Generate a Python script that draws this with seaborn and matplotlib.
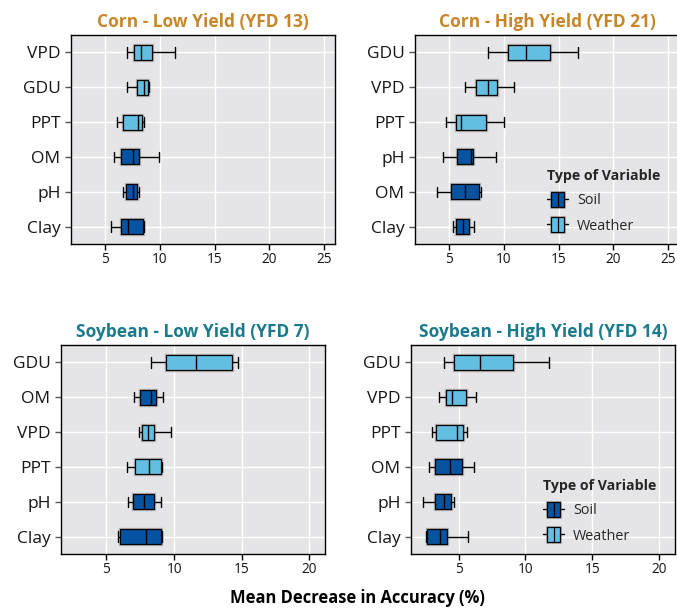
import numpy as np
import pandas as pd
import seaborn as sns
import matplotlib.pyplot as plt
from matplotlib.legend_handler import HandlerBase
from matplotlib.patches import Rectangle
from matplotlib.lines import Line2D
from matplotlib import patheffects

# ---- data: five-number summaries (lower whisker, Q1, median, Q3, upper whisker) ----
corn_low_vars = ["VPD", "GDU", "PPT", "OM", "pH", "Clay"]
corn_low_types = ["Weather", "Weather", "Weather", "Soil", "Soil", "Soil"]
corn_low_stats = [
    [6.95, 7.65, 8.29, 9.30, 11.37],
    [6.95, 7.90, 8.54, 8.90, 8.99],
    [6.04, 6.65, 8.02, 8.32, 8.54],
    [5.79, 6.43, 7.50, 8.11, 9.94],
    [6.65, 6.86, 7.56, 7.93, 8.11],
    [5.49, 6.40, 7.07, 8.41, 8.54],
]

corn_high_vars = ["GDU", "VPD", "PPT", "pH", "OM", "Clay"]
corn_high_types = ["Weather", "Weather", "Weather", "Soil", "Soil", "Soil"]
corn_high_stats = [
    [8.49, 10.38, 12.03, 14.24, 16.74],
    [6.47, 7.45, 8.49, 9.40, 10.87],
    [4.66, 5.61, 6.10, 8.36, 10.02],
    [4.45, 5.67, 6.96, 7.14, 9.25],
    [3.84, 5.12, 6.41, 7.75, 7.87],
    [5.31, 5.61, 6.22, 6.83, 7.26],
]

soy_low_vars = ["GDU", "OM", "VPD", "PPT", "pH", "Clay"]
soy_low_types = ["Weather", "Soil", "Weather", "Weather", "Soil", "Soil"]
soy_low_stats = [
    [8.26, 9.44, 11.64, 14.31, 14.75],
    [7.07, 7.49, 8.28, 8.68, 9.20],
    [7.42, 7.64, 8.06, 8.53, 9.77],
    [6.53, 7.10, 8.11, 9.07, 9.12],
    [6.58, 6.93, 7.79, 8.53, 9.05],
    [5.84, 5.99, 7.96, 9.05, 9.12],
]

soy_high_vars = ["GDU", "VPD", "PPT", "OM", "pH", "Clay"]
soy_high_types = ["Weather", "Weather", "Weather", "Soil", "Soil", "Soil"]
soy_high_stats = [
    [3.95, 4.63, 6.60, 9.06, 11.78],
    [3.55, 4.05, 4.48, 5.57, 6.32],
    [3.00, 3.35, 4.90, 5.35, 5.60],
    [2.81, 3.25, 4.38, 5.27, 6.15],
    [2.31, 3.25, 3.95, 4.45, 4.65],
    [2.56, 2.66, 3.63, 4.15, 5.70],
]

type_order = ["Soil", "Weather"]
type_colors = {"Soil": "#0553A1", "Weather": "#63BFE2"}
corn_color = "#C8862A"
soy_color = "#1B7B8C"
halo = (0.35, 0.35, 0.35, 0.35)

FONT = ["Open Sans", "DejaVu Sans"]

sns.set_theme(style="darkgrid", rc={
    "axes.facecolor": "#E5E5E7",
    "grid.color": "white",
    "grid.linewidth": 1.0,
    "axes.edgecolor": "black",
    "axes.linewidth": 1.0,
})
plt.rcParams["font.family"] = FONT


class BoxKeyHandler(HandlerBase):
    """Legend key drawn as a tiny horizontal boxplot."""

    def create_artists(self, legend, orig_handle, xdescent, ydescent,
                       width, height, fontsize, trans):
        fc = orig_handle.get_facecolor()
        cy = height / 2 - ydescent
        x0, x1 = -xdescent, -xdescent + width
        bw = width * 0.6
        bx = x0 + (width - bw) / 2
        bh = height * 1.55
        whisk = Line2D([x0, x1], [cy, cy], color="black", lw=1.0, transform=trans)
        box = Rectangle((bx, cy - bh / 2), bw, bh, facecolor=fc,
                        edgecolor="black", lw=0.9, transform=trans)
        box.set_path_effects([patheffects.withStroke(linewidth=2.2, foreground=halo)])
        med = Line2D([bx + bw / 2, bx + bw / 2], [cy - bh / 2, cy + bh / 2],
                     color="black", lw=0.9, transform=trans)
        return [whisk, box, med]


def long_frame(variables, types, stats):
    rows = []
    for v, t, s in zip(variables, types, stats):
        for val in s:
            rows.append({"variable": v, "type": t, "value": val})
    return pd.DataFrame(rows)


def draw_panel(ax, variables, types, stats, title, title_color, xlim, show_legend):
    df = long_frame(variables, types, stats)
    sns.boxplot(data=df, x="value", y="variable", hue="type",
                order=variables, hue_order=type_order, palette=type_colors,
                dodge=False, width=0.43, whis=(0, 100), saturation=1,
                linecolor="black", linewidth=0.9, legend=False, ax=ax)
    for p in ax.patches:
        p.set_path_effects([patheffects.withStroke(linewidth=2.4, foreground=halo)])
    # lengthen the whisker caps (short vertical segments at whisker ends)
    for ln in ax.lines:
        xd, yd = np.asarray(ln.get_xdata(), float), np.asarray(ln.get_ydata(), float)
        if len(xd) == 2 and xd[0] == xd[1] and abs(yd[1] - yd[0]) < 0.3:
            c = yd.mean()
            ln.set_ydata([c - 0.15, c + 0.15])
        ln.set_linewidth(1.0)
    ax.set_xlim(*xlim)
    ax.set_ylim(len(variables) - 0.5, -0.5)
    ax.set_xticks([t for t in [5, 10, 15, 20, 25] if t < xlim[1]])
    ax.set_xlabel("")
    ax.set_ylabel("")
    ax.grid(True, axis="both", color="white", lw=1.0)
    ax.set_axisbelow(True)
    for s in ax.spines.values():
        s.set_visible(True)
        s.set_color("black")
        s.set_linewidth(1.0)
    ax.tick_params(axis="y", left=True, length=4.5, width=1, color="#555555",
                   labelsize=12.5, pad=3, labelcolor="#151515")
    ax.tick_params(axis="x", bottom=True, length=4, width=1, color="black",
                   labelsize=9.8, pad=2, labelcolor="#151515")
    ax.set_title(title, color=title_color, fontsize=12.5, fontweight="bold", pad=6)
    if show_legend:
        handles = [Rectangle((0, 0), 1, 1, facecolor=type_colors[t]) for t in type_order]
        leg = ax.legend(handles, type_order, title="Type of Variable",
                        handler_map={Rectangle: BoxKeyHandler()},
                        loc="lower left", bbox_to_anchor=(0.45, -0.012),
                        frameon=False, fontsize=10.4, title_fontsize=10.2,
                        handlelength=1.5, handletextpad=0.6, labelspacing=0.7)
        leg.get_title().set_fontweight("bold")
        leg._legend_box.align = "left"


W, H = 677, 611
fig = plt.figure(figsize=(W / 100, H / 100), dpi=100)


def rect(left, right, top, bottom):
    return [left / W, 1 - bottom / H, (right - left) / W, (bottom - top) / H]


ax1 = fig.add_axes(rect(71, 335, 35, 244))
ax2 = fig.add_axes(rect(415, 679, 35, 244))
ax3 = fig.add_axes(rect(61, 325, 345, 554))
ax4 = fig.add_axes(rect(411, 675, 345, 554))

draw_panel(ax1, corn_low_vars, corn_low_types, corn_low_stats,
           "Corn - Low Yield (YFD 13)", corn_color, (1.86, 26.0), False)
draw_panel(ax2, corn_high_vars, corn_high_types, corn_high_stats,
           "Corn - High Yield (YFD 21)", corn_color, (1.86, 26.0), True)
draw_panel(ax3, soy_low_vars, soy_low_types, soy_low_stats,
           "Soybean - Low Yield (YFD 7)", soy_color, (1.64, 21.16), False)
draw_panel(ax4, soy_high_vars, soy_high_types, soy_high_stats,
           "Soybean - High Yield (YFD 14)", soy_color, (1.45, 21.17), True)

fig.text(357 / W, 1 - 598 / H, "Mean Decrease in Accuracy (%)",
         ha="center", va="center", fontsize=11.9, fontweight="bold", color="black")

fig.savefig("out.png", dpi=100, facecolor="white")
